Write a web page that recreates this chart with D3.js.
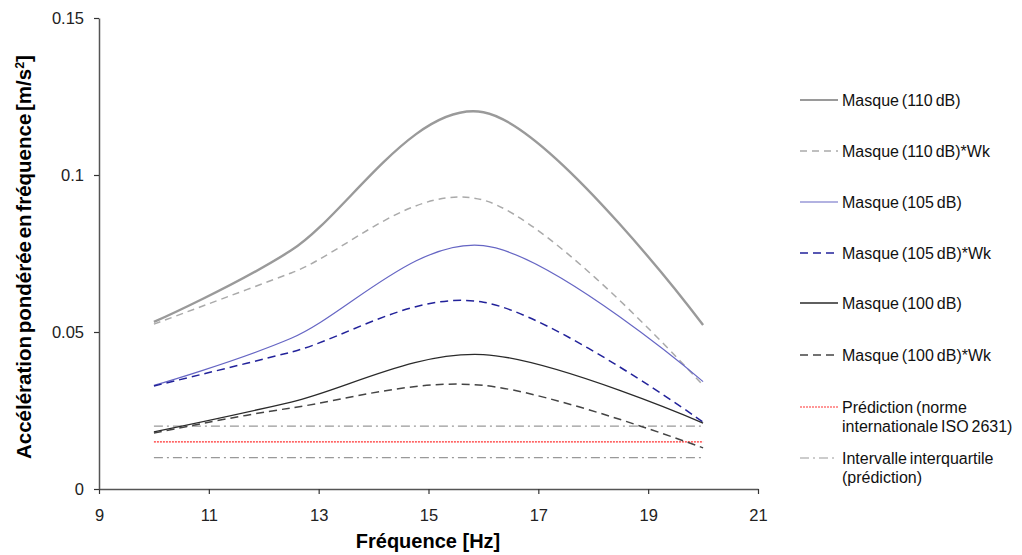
<!DOCTYPE html>
<html><head><meta charset="utf-8">
<script src="https://cdn.jsdelivr.net/npm/d3@7"></script>
<style>body{margin:0;background:#fff;} svg{display:block;font-family:"Liberation Sans",Arial,sans-serif;}</style>
</head><body>
<svg id="chart" width="1022" height="555"></svg>
<script>
const freqs = [10, 12.5, 16, 20];
const masque110 = [0.0532, 0.0760, 0.1200, 0.0522];
const masque110Wk = [0.0525, 0.0688, 0.0920, 0.0330];
const masque105 = [0.0330, 0.0480, 0.0775, 0.0342];
const masque105Wk = [0.0328, 0.0436, 0.0595, 0.0213];
const masque100 = [0.0182, 0.0277, 0.0428, 0.0210];
const masque100Wk = [0.0178, 0.0258, 0.0330, 0.0131];
const prediction = [0.015, 0.015];
const iqHigh = [0.020, 0.020];
const iqLow = [0.010, 0.010];
const predX = [10, 20];
const xTicks = [9, 11, 13, 15, 17, 19, 21];
const yTicks = [0, 0.05, 0.1, 0.15];
const yTickLabels = ["0", "0.05", "0.1", "0.15"];
const seriesNames = ["Masque (110 dB)", "Masque (110 dB)*Wk", "Masque (105 dB)", "Masque (105 dB)*Wk", "Masque (100 dB)", "Masque (100 dB)*Wk", "Prédiction (norme|internationale ISO 2631)", "Intervalle interquartile|(prédiction)"];

const svg = d3.select("#chart");
const x = d3.scaleLinear().domain([9, 21]).range([99, 758]);
const y = d3.scaleLinear().domain([0, 0.15]).range([489, 18]);

const styles = [
  {c:"#9a9a9a", w:2.4, d:null},
  {c:"#aaaaaa", w:1.5, d:"7,5"},
  {c:"#6666c4", w:1.2, d:null},
  {c:"#22229a", w:1.5, d:"8,5"},
  {c:"#2a2a2a", w:1.3, d:null},
  {c:"#444444", w:1.5, d:"8,5"},
  {c:"#ff3030", w:1.2, d:"2,1"},
  {c:"#999999", w:1.2, d:"9,4,2,4"}
];
const curveData = [masque110, masque110Wk, masque105, masque105Wk, masque100, masque100Wk];

const line = d3.line().x(d => x(d[0])).y(d => y(d[1])).curve(d3.curveCardinal.tension(0));
const flat = d3.line().x(d => x(d[0])).y(d => y(d[1]));

// axes
const xAxis = d3.axisBottom(x).tickValues(xTicks).tickSize(5).tickSizeOuter(0).tickFormat(d3.format("d"));
const yAxis = d3.axisLeft(y).tickValues(yTicks).tickSize(5).tickSizeOuter(0).tickFormat((d,i) => yTickLabels[i]);
const gx = svg.append("g").attr("transform", "translate(0,489)").call(xAxis);
const gy = svg.append("g").attr("transform", "translate(99,0)").call(yAxis);
[gx, gy].forEach(g => {
  g.select(".domain").attr("stroke", "#555").attr("stroke-width", 1.5);
  g.selectAll(".tick line").attr("stroke", "#333").attr("stroke-width", 1.2);
  g.selectAll(".tick text").attr("fill", "#222").style("font-size", "16.5px").style("font-family", "Liberation Sans, Arial, sans-serif");
});
gx.selectAll(".tick text").attr("dy", "0").attr("y", 32);
gy.selectAll(".tick text").attr("x", -15).attr("dy", "0.36em");

// horizontal lines
const flats = [[iqHigh, 7], [iqLow, 7], [prediction, 6]];
flats.forEach(([vals, si]) => {
  const s = styles[si];
  svg.append("path").attr("d", flat(predX.map((f,i)=>[f, vals[i]])))
    .attr("fill","none").attr("stroke", s.c).attr("stroke-width", s.w).attr("stroke-dasharray", s.d);
});

// curves
curveData.forEach((vals, i) => {
  const s = styles[i];
  svg.append("path").attr("d", line(freqs.map((f,j)=>[f, vals[j]])))
    .attr("fill","none").attr("stroke", s.c).attr("stroke-width", s.w)
    .attr("stroke-dasharray", s.d);
});

// legend
const legY = [100, 151, 202, 253, 303, 355, 407, 458];
seriesNames.forEach((name, i) => {
  const s = styles[i];
  const g = svg.append("g");
  g.append("line").attr("x1", 800).attr("x2", 838).attr("y1", legY[i]).attr("y2", legY[i])
    .attr("stroke", s.c).attr("stroke-width", Math.min(s.w, 2)).attr("stroke-dasharray", s.d);
  const parts = name.split("|");
  parts.forEach((p, k) => {
    g.append("text").attr("x", 842).attr("y", legY[i] + 6 + k*19).text(p)
      .style("font-size", "16px").style("word-spacing", "-1.5px").attr("fill", "#111");
  });
});

// axis titles
svg.append("text").attr("x", 428).attr("y", 548).attr("text-anchor", "middle")
  .style("font-size", "20px").style("font-weight", "bold").attr("fill", "#000").text("Fréquence [Hz]");
const yl = svg.append("text").attr("transform", "translate(31,459) rotate(-90)").attr("text-anchor", "start")
  .style("font-size", "20.5px").style("font-weight", "bold").style("word-spacing", "-3px").attr("fill", "#000");
yl.append("tspan").text("Accélération pondérée en fréquence [m/s");
yl.append("tspan").attr("dy", -7).style("font-size", "12.5px").text("2");
yl.append("tspan").attr("dy", 7).text("]");
</script>
</body></html>
